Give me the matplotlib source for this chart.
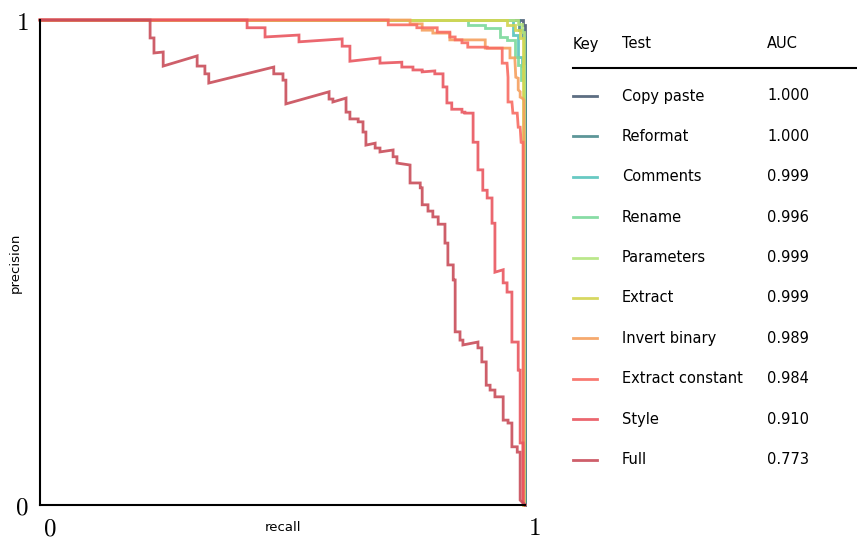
import matplotlib
matplotlib.use("Agg")
import matplotlib.pyplot as plt
import matplotlib.transforms as mtransforms

plt.rcParams["font.family"] = ["DejaVu Sans"]
plt.rcParams["mathtext.fontset"] = "cm"

# legend rows, in drawing order (the last one ends up on top)
tests = ["Copy paste", "Reformat", "Comments", "Rename", "Parameters",
         "Extract", "Invert binary", "Extract constant", "Style", "Full"]
auc = ["1.000", "1.000", "0.999", "0.996", "0.999",
       "0.999", "0.989", "0.984", "0.910", "0.773"]
colors = ["#4b5e74", "#4b8b8d", "#57c4bd", "#7bd99b", "#b4e57e",
          "#d3d450", "#f5a05e", "#f86c63", "#e9565f", "#c94d5a"]

# precision / recall points
copy_recall = [0.0, 0.996, 0.996, 1.0, 1.0]
copy_precision = [1.0, 1.0, 0.99, 0.99, 0.0]

reformat_recall = [0.0, 0.988, 0.988, 0.996, 0.996, 1.0, 1.0]
reformat_precision = [1.0, 1.0, 0.979, 0.979, 0.965, 0.965, 0.0]

comments_recall = [0.0, 0.975, 0.975, 0.986, 0.986, 0.994, 0.994, 0.998, 0.998]
comments_precision = [1.0, 1.0, 0.969, 0.969, 0.924, 0.924, 0.905, 0.905, 0.0]

rename_recall = [0.0, 0.882, 0.882, 0.918, 0.918, 0.948, 0.948, 0.963, 0.963,
                 0.979, 0.979, 0.986, 0.986, 0.992, 0.992, 0.998, 0.998]
rename_precision = [1.0, 1.0, 0.990, 0.990, 0.984, 0.984, 0.965, 0.965, 0.959,
                    0.959, 0.924, 0.924, 0.907, 0.907, 0.876, 0.876, 0.0]

params_recall = [0.0, 0.986, 0.986, 0.994, 0.994, 0.998, 0.998]
params_precision = [1.0, 1.0, 0.992, 0.992, 0.975, 0.975, 0.0]

extract_recall = [0.0, 0.963, 0.963, 0.979, 0.979, 0.990, 0.990, 0.996, 0.996]
extract_precision = [1.0, 1.0, 0.990, 0.990, 0.979, 0.979, 0.963, 0.963, 0.0]

invert_recall = [0.0, 0.763, 0.763, 0.788, 0.788, 0.810, 0.810, 0.845, 0.845,
                 0.918, 0.918, 0.969, 0.969, 0.979, 0.981, 0.986, 0.986, 0.990,
                 0.990, 0.994, 0.998, 0.998]
invert_precision = [1.0, 1.0, 0.992, 0.992, 0.979, 0.979, 0.973, 0.973, 0.959,
                    0.959, 0.942, 0.942, 0.922, 0.922, 0.882, 0.880, 0.856, 0.852,
                    0.841, 0.839, 0.835, 0.0]

const_recall = [0.0, 0.718, 0.718, 0.777, 0.777, 0.819, 0.819, 0.845, 0.845,
                0.856, 0.856, 0.870, 0.870, 0.882, 0.882, 0.922, 0.922, 0.953,
                0.953, 0.963, 0.965, 0.965, 0.973, 0.975, 0.984, 0.986, 0.990,
                0.992, 0.996, 0.996, 1.0]
const_precision = [1.0, 1.0, 0.990, 0.990, 0.984, 0.984, 0.975, 0.975, 0.965,
                   0.965, 0.959, 0.959, 0.953, 0.953, 0.944, 0.944, 0.942, 0.942,
                   0.911, 0.911, 0.882, 0.831, 0.831, 0.808, 0.808, 0.779, 0.779,
                   0.748, 0.748, 0.004, 0.0]

style_recall = [0.0, 0.427, 0.427, 0.464, 0.464, 0.534, 0.534, 0.623, 0.623,
                0.639, 0.639, 0.701, 0.701, 0.746, 0.746, 0.769, 0.769, 0.788,
                0.788, 0.814, 0.814, 0.831, 0.831, 0.839, 0.839, 0.849, 0.849,
                0.870, 0.870, 0.876, 0.876, 0.893, 0.893, 0.903, 0.903, 0.913,
                0.913, 0.922, 0.922, 0.932, 0.932, 0.938, 0.938, 0.955, 0.955,
                0.963, 0.963, 0.973, 0.973, 0.986, 0.986, 0.990, 0.990, 0.996,
                0.996, 1.0]
style_precision = [1.0, 1.0, 0.984, 0.984, 0.965, 0.969, 0.955, 0.961, 0.946,
                   0.946, 0.915, 0.922, 0.911, 0.913, 0.903, 0.903, 0.897, 0.897,
                   0.893, 0.895, 0.889, 0.889, 0.862, 0.862, 0.829, 0.829, 0.816,
                   0.816, 0.810, 0.810, 0.808, 0.808, 0.748, 0.748, 0.691, 0.691,
                   0.649, 0.649, 0.633, 0.633, 0.581, 0.581, 0.480, 0.485, 0.458,
                   0.458, 0.439, 0.439, 0.336, 0.336, 0.278, 0.278, 0.128, 0.128,
                   0.006, 0.0]

full_recall = [0.0, 0.227, 0.227, 0.235, 0.235, 0.254, 0.254, 0.324, 0.324,
               0.340, 0.340, 0.348, 0.348, 0.482, 0.482, 0.501, 0.501, 0.507,
               0.507, 0.596, 0.596, 0.604, 0.604, 0.631, 0.631, 0.639, 0.639,
               0.656, 0.656, 0.666, 0.666, 0.672, 0.672, 0.691, 0.691, 0.701,
               0.701, 0.728, 0.728, 0.736, 0.736, 0.763, 0.763, 0.784, 0.784,
               0.788, 0.788, 0.800, 0.800, 0.810, 0.810, 0.821, 0.821, 0.835,
               0.835, 0.841, 0.841, 0.852, 0.852, 0.856, 0.856, 0.866, 0.866,
               0.872, 0.872, 0.903, 0.903, 0.911, 0.911, 0.920, 0.920, 0.928,
               0.928, 0.938, 0.938, 0.955, 0.955, 0.965, 0.965, 0.973, 0.973,
               0.984, 0.984, 0.990, 0.990, 0.996, 1.0]
full_precision = [1.0, 1.0, 0.963, 0.963, 0.932, 0.934, 0.905, 0.926, 0.905,
                  0.905, 0.889, 0.889, 0.870, 0.903, 0.889, 0.889, 0.876, 0.876,
                  0.827, 0.852, 0.837, 0.837, 0.831, 0.839, 0.810, 0.810, 0.796,
                  0.796, 0.790, 0.790, 0.769, 0.769, 0.742, 0.746, 0.736, 0.736,
                  0.728, 0.732, 0.718, 0.718, 0.705, 0.701, 0.664, 0.664, 0.654,
                  0.654, 0.619, 0.619, 0.606, 0.606, 0.594, 0.594, 0.579, 0.579,
                  0.540, 0.540, 0.495, 0.495, 0.464, 0.464, 0.357, 0.357, 0.340,
                  0.340, 0.330, 0.336, 0.324, 0.324, 0.295, 0.295, 0.247, 0.247,
                  0.237, 0.237, 0.223, 0.223, 0.175, 0.175, 0.169, 0.169, 0.120,
                  0.120, 0.109, 0.109, 0.010, 0.004, 0.0]

curves = [
    (copy_recall, copy_precision),
    (reformat_recall, reformat_precision),
    (comments_recall, comments_precision),
    (rename_recall, rename_precision),
    (params_recall, params_precision),
    (extract_recall, extract_precision),
    (invert_recall, invert_precision),
    (const_recall, const_precision),
    (style_recall, style_precision),
    (full_recall, full_precision),
]

W, H = 857, 542
fig = plt.figure(figsize=(W / 100, H / 100), dpi=100)

# main plot, square 485 x 485 px
ax = fig.add_axes([40 / W, (H - 505) / H, 485 / W, 485 / H])
for (r, p), c in zip(curves, colors):
    ax.plot(r, p, color=c, lw=2, alpha=0.9, clip_on=False, solid_joinstyle="miter")

ax.set_xlim(0, 1)
ax.set_ylim(0, 1)
ax.spines["top"].set_visible(False)
ax.spines["right"].set_visible(False)
ax.spines["left"].set_linewidth(1.5)
ax.spines["bottom"].set_linewidth(1.5)
ax.set_xticks([0, 1])
ax.set_yticks([0, 1])
ax.set_xticklabels(["$0$", "$1$"], fontsize=18, ha="left")
ax.set_yticklabels(["$0$", "$1$"], fontsize=18)
ax.tick_params(length=0, pad=8)
# nudge the x tick labels a little to the right, as in the original
shift = mtransforms.ScaledTranslation(3 / 100, 0, fig.dpi_scale_trans)
for lab in ax.get_xticklabels():
    lab.set_transform(lab.get_transform() + shift)
ax.text(0.5, -0.047, "recall", transform=ax.transAxes, ha="center", va="center", fontsize=9.5)
ax.text(-0.052, 0.5, "precision", transform=ax.transAxes, ha="center", va="center",
        rotation=90, fontsize=9.5)

# table-style legend on the right, drawn in pixel space
leg = fig.add_axes([0, 0, 1, 1])
leg.set_xlim(0, W)
leg.set_ylim(H, 0)
leg.axis("off")

fs = 10.5
leg.text(573, 44, "Key", fontsize=fs, va="center")
leg.text(622, 44, "Test", fontsize=fs, va="center")
leg.text(767, 44, "AUC", fontsize=fs, va="center")
leg.plot([573, 857], [68, 68], color="black", lw=1.5)

row_y = 96
for name, a, c in zip(tests, auc, colors):
    leg.plot([573, 597], [row_y, row_y], color=c, lw=2, alpha=0.9)
    leg.text(622, row_y, name, fontsize=fs, va="center")
    leg.text(767, row_y, a, fontsize=fs, va="center")
    row_y += 40.4

fig.savefig("out.png", dpi=100)
